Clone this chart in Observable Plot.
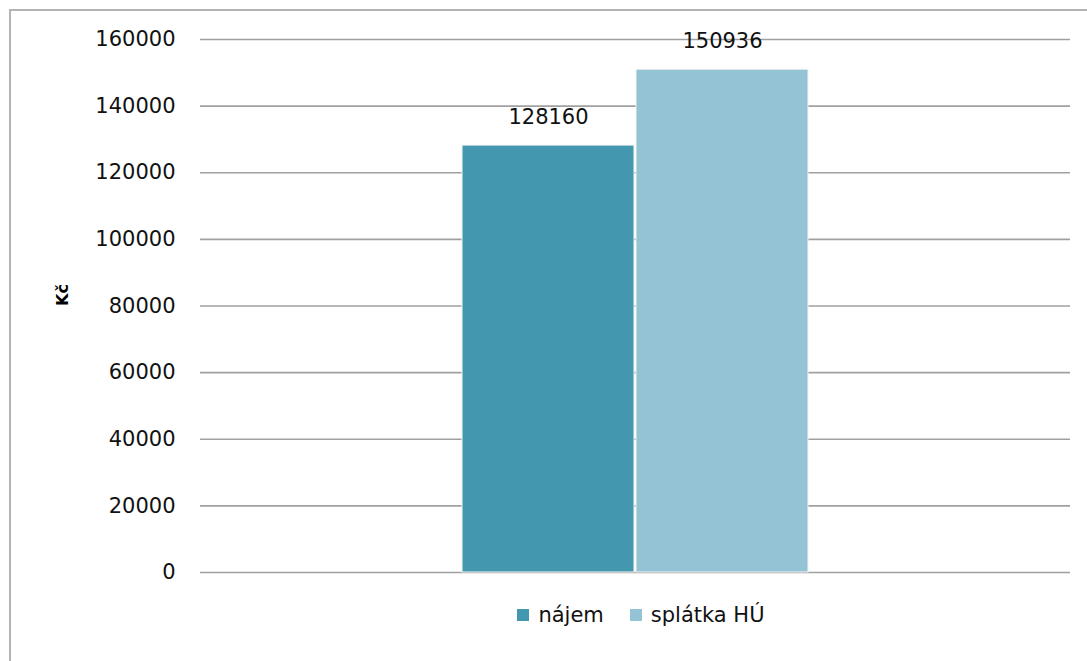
<!DOCTYPE html>
<html>
<head>
<meta charset="utf-8">
<script src="https://cdn.jsdelivr.net/npm/d3@7"></script>
<script src="https://cdn.jsdelivr.net/npm/@observablehq/plot@0.6"></script>
<style>
  html, body { margin: 0; padding: 0; background: #fff; width: 1087px; height: 661px; overflow: hidden; font-family: "DejaVu Sans", Verdana, sans-serif; }
  #frame { position: absolute; left: 9px; top: 9px; width: 1200px; height: 800px; border-left: 2px solid #b4b4b4; border-top: 2px solid #b4b4b4; }
  #chart { position: absolute; left: 0; top: 0; }
  #legend { position: absolute; left: 0; top: 603px; width: 1087px; display: flex; justify-content: center; font-size: 21px; color: #111; padding-left: 195px; box-sizing: border-box; }
  .item { display: flex; align-items: center; margin: 0 13px; }
  .sw { width: 12px; height: 12px; margin-right: 9px; display: inline-block; }
</style>
</head>
<body>
<div id="frame"></div>
<div id="chart"></div>
<div id="legend"></div>
<script>
const categories = ["nájem", "splátka HÚ"];
const values = [128160, 150936];
const colors = ["#4398b0", "#93c3d5"];
const yTicks = [0, 20000, 40000, 60000, 80000, 100000, 120000, 140000, 160000];

const data = categories.map((c, i) => ({category: c, value: values[i]}));

const chart = Plot.plot({
  width: 1087,
  height: 590,
  marginLeft: 200,
  marginRight: 17,
  marginTop: 39,
  marginBottom: 18,
  style: {fontFamily: "DejaVu Sans, Verdana, sans-serif", fontSize: "21px", color: "#111", background: "transparent"},
  x: {domain: categories, paddingInner: 0.01, paddingOuter: 1.5, axis: null},
  y: {domain: [0, 160000], ticks: yTicks, label: null, axis: null},
  color: {domain: categories, range: colors},
  marks: [
    Plot.ruleY(yTicks, {stroke: "#a0a0a0", strokeWidth: 1.6}),
    Plot.ruleX([0], {frameAnchor: "left", y1: 0, y2: 160000, stroke: "#a0a0a0", strokeWidth: 1.6}),
    Plot.barY(data, {x: "category", y: "value", fill: "category", stroke: "#f4f4f4", strokeWidth: 1}),
    Plot.text(data, {x: "category", y: "value", text: d => String(d.value), dy: -28, fontSize: 21, fill: "#111"}),
    Plot.axisY({ticks: yTicks, tickSize: 0, tickPadding: 25, tickFormat: d => String(d), fontSize: 21, label: null}),
    Plot.text(["Kč"], {frameAnchor: "left", dx: -138, rotate: -90, fontWeight: "bold", fontSize: 16, fill: "#000"})
  ]
});
document.getElementById("chart").appendChild(chart);

const legend = document.getElementById("legend");
categories.forEach((c, i) => {
  const item = document.createElement("span");
  item.className = "item";
  const sw = document.createElement("span");
  sw.className = "sw";
  sw.style.background = colors[i];
  item.appendChild(sw);
  item.appendChild(document.createTextNode(c));
  legend.appendChild(item);
});
</script>
</body>
</html>
